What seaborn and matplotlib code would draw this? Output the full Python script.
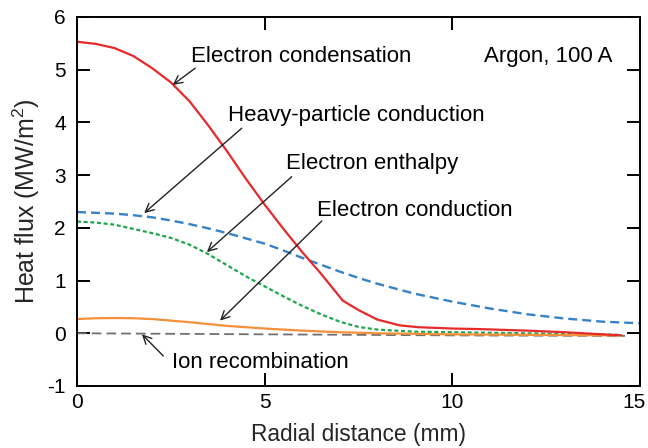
import matplotlib
matplotlib.use("Agg")
import matplotlib.pyplot as plt
import matplotlib.transforms as mtransforms
import seaborn as sns

# Radial heat-flux components at the anode (argon arc, 100 A)
cond_x = [0, 0.5, 1, 1.5, 2, 2.5, 3, 3.5, 4, 4.5, 5, 5.5, 6, 6.5, 7.08, 7.5,
          8, 8.6, 9.1, 10, 10.7, 12, 13, 14, 14.5]
cond_y = [5.53, 5.49, 5.41, 5.26, 5.03, 4.76, 4.40, 3.94, 3.45, 2.93, 2.44,
          1.98, 1.54, 1.13, 0.62, 0.44, 0.26, 0.15, 0.115, 0.09, 0.08, 0.05,
          0.02, -0.02, -0.04]

heavy_x = [0, 1, 1.5, 2, 2.5, 3, 3.5, 4, 4.5, 5, 5.5, 6, 6.5, 7, 7.5, 8, 9,
           10, 11, 12, 13, 14, 15]
heavy_y = [2.30, 2.27, 2.24, 2.20, 2.14, 2.07, 1.99, 1.90, 1.80, 1.70, 1.57,
           1.43, 1.30, 1.17, 1.05, 0.94, 0.75, 0.60, 0.47, 0.36, 0.28, 0.22,
           0.19]

enth_x = [0, 0.5, 1, 1.5, 2, 2.5, 3, 3.5, 4, 4.5, 5, 5.5, 6, 6.5, 7, 7.5, 8,
          8.5, 9, 10, 12, 14.5]
enth_y = [2.12, 2.10, 2.06, 1.98, 1.90, 1.81, 1.68, 1.50, 1.29, 1.08, 0.89,
          0.70, 0.52, 0.36, 0.22, 0.12, 0.07, 0.05, 0.03, 0.02, 0.0, -0.03]

econd_x = [0, 0.5, 1, 1.5, 2, 3, 4, 5, 6, 7, 8, 10, 12, 14.5]
econd_y = [0.27, 0.285, 0.29, 0.285, 0.27, 0.21, 0.14, 0.09, 0.05, 0.02,
           0.0, -0.02, -0.03, -0.04]

ion_x = [0, 5, 10, 14.6]
ion_y = [0.0, -0.02, -0.04, -0.05]

labels = ["Electron condensation", "Heavy-particle conduction",
          "Electron enthalpy", "Electron conduction", "Ion recombination"]
x_ticks = [0, 5, 10, 15]
y_ticks = [-1, 0, 1, 2, 3, 4, 5, 6]

sns.set_theme(style="ticks")
plt.rcParams["font.family"] = ["Liberation Sans", "DejaVu Sans"]
plt.rcParams["mathtext.fontset"] = "custom"
plt.rcParams["mathtext.rm"] = "Liberation Sans"
plt.rcParams["axes.unicode_minus"] = False
plt.rcParams["lines.scale_dashes"] = False

fig = plt.figure(figsize=(6.48, 4.48), dpi=100)
ax = fig.add_axes([0.1188, 0.1384, 0.869, 0.8237])

sns.lineplot(x=heavy_x, y=heavy_y, ax=ax, color="#3582c6", lw=1.7,
             linestyle=(0, (6.5, 3.6)), legend=False)
sns.lineplot(x=enth_x, y=enth_y, ax=ax, color="#1fa64c", lw=1.6,
             linestyle=(0, (2.9, 1.9)), legend=False)
sns.lineplot(x=ion_x, y=ion_y, ax=ax, color="#707070", lw=1.3,
             linestyle=(0, (7.0, 3.6)), legend=False)
sns.lineplot(x=econd_x, y=econd_y, ax=ax, color="#f3913a", lw=1.6,
             linestyle="-", legend=False)
sns.lineplot(x=cond_x, y=cond_y, ax=ax, color="#e62a2a", lw=1.6,
             linestyle="-", legend=False)

ax.set_xlim(0, 15)
ax.set_ylim(-1, 6)
ax.set_xticks(x_ticks)
ax.set_yticks(y_ticks)
ax.set_xticklabels([str(v) for v in x_ticks])
ax.set_yticklabels([str(v) for v in y_ticks])

for side in ["top", "right", "bottom", "left"]:
    ax.spines[side].set_visible(True)
    ax.spines[side].set_linewidth(1.4)
    ax.spines[side].set_color("black")

ax.tick_params(axis="both", direction="in", length=9.5, width=1.4,
               top=True, right=True, labelsize=15, colors="black")
ax.tick_params(axis="x", pad=5)
ax.tick_params(axis="y", pad=8)

# keep the last x label inside the figure edge
last = ax.get_xticklabels()[-1]
last.set_transform(last.get_transform()
                   + mtransforms.ScaledTranslation(-0.06, 0, fig.dpi_scale_trans))

ax.set_xlabel("Radial distance (mm)", fontsize=16.4, labelpad=8)
ax.set_ylabel("Heat flux (MW/m$^2$)", fontsize=18, labelpad=4)

# Curve labels and pointer arrows
txt = dict(fontsize=16, color="black", va="baseline", ha="left")
ax.text(3.04, 5.14, labels[0], **txt)
ax.text(4.03, 4.02, labels[1], **txt)
ax.text(5.58, 3.12, labels[2], **txt)
ax.text(6.40, 2.23, labels[3], **txt)
ax.text(2.53, -0.65, labels[4], **txt)
ax.text(14.26, 5.14, "Argon, 100 A", fontsize=16, color="black",
        va="baseline", ha="right")

arrow = dict(arrowstyle="->,head_length=0.5,head_width=0.25", lw=1.0,
             color="#222222", shrinkA=0, shrinkB=0)
pointers = [((3.15, 5.03), (2.55, 4.71)),
            ((4.39, 3.89), (1.79, 2.28)),
            ((5.72, 2.97), (3.46, 1.54)),
            ((6.52, 2.13), (3.81, 0.24)),
            ((2.30, -0.43), (1.73, -0.02))]
for tail, head in pointers:
    ax.annotate("", xy=head, xytext=tail, arrowprops=arrow)

fig.savefig("out.png", dpi=100)
